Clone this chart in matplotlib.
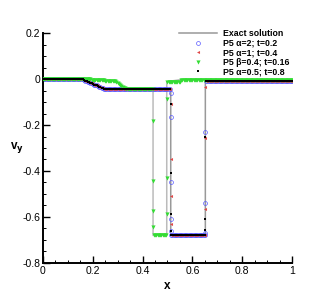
import numpy as np
import matplotlib
matplotlib.use("Agg")
import matplotlib.pyplot as plt
from matplotlib.ticker import MultipleLocator

plt.rcParams['font.family'] = ['Liberation Sans', 'DejaVu Sans']

# grid of the numerical solutions (dx = 0.005)
x_grid = np.round(np.arange(0, 201) * 0.005, 4)

# v_y on the grid, shock profile shared by the alpha runs
vy_shock = ([0.0] * 32
            + [-0.002, -0.005, -0.007, -0.009, -0.012, -0.014, -0.017, -0.019, -0.021,
               -0.024, -0.026, -0.028, -0.031, -0.033, -0.036, -0.038, -0.040, -0.043]
            + [-0.045] * 53
            + [-0.68] * 28
            + [-0.008] * 70)

# beta run
vy_beta = ([0.0] * 32
           + [-0.000, -0.001, -0.001, -0.001, -0.002, -0.002, -0.002, -0.003, -0.003,
              -0.003, -0.004, -0.004, -0.005, -0.005, -0.005, -0.006, -0.006, -0.006,
              -0.007, -0.007, -0.008, -0.008, -0.008, -0.009, -0.009, -0.009, -0.010]
           + [-0.014, -0.018, -0.022, -0.026, -0.030, -0.034, -0.038, -0.041, -0.044]
           + [-0.045] * 21
           + [-0.68] * 11
           + [-0.012] * 11
           + [-0.003] * 90)

# points sitting inside the jumps
a2_jx = [0.513, 0.513, 0.513, 0.513, 0.513, 0.652, 0.652, 0.652]
a2_jy = [-0.06, -0.165, -0.45, -0.61, -0.66, -0.23, -0.54, -0.67]
a1_jx = [0.513, 0.513, 0.513, 0.513, 0.652, 0.652, 0.652]
a1_jy = [-0.11, -0.35, -0.507, -0.63, -0.033, -0.255, -0.565]
a05_jx = [0.513, 0.513, 0.513, 0.513, 0.652, 0.652, 0.652]
a05_jy = [-0.11, -0.41, -0.587, -0.66, -0.25, -0.61, -0.657]
b_jx = [0.442, 0.442, 0.442, 0.442, 0.497, 0.497, 0.497]
b_jy = [-0.183, -0.443, -0.574, -0.644, -0.088, -0.43, -0.587]

# exact solutions
ex1_x = [0, 0.155, 0.25, 0.513, 0.513, 0.652, 0.652, 1]
ex1_y = [0, 0, -0.045, -0.045, -0.68, -0.68, -0.008, -0.008]
ex2_x = [0, 0.155, 0.29, 0.34, 0.442, 0.442, 0.497, 0.497, 0.55, 1]
ex2_y = [0, 0, -0.01, -0.045, -0.045, -0.68, -0.68, -0.012, -0.003, -0.003]

fig = plt.figure(figsize=(3.32, 2.96), dpi=100)
ax = fig.add_axes([0.1295, 0.1115, 0.75, 0.777])

ax.plot(ex1_x, ex1_y, color='#999999', lw=1.1, label='Exact solution', zorder=1)
ax.plot(ex2_x, ex2_y, color='#bbbbbb', lw=1.1, zorder=1)

def pts(base, jx, jy):
    return np.concatenate([x_grid, jx]), np.concatenate([base, jy])

xs, ys = pts(vy_shock, a2_jx, a2_jy)
ax.plot(xs, ys, 'o', ms=2.8, mfc='none', mec='#5a5aff', mew=0.5, ls='none',
        label='P5 \u03b1=2; t=0.2', zorder=2)
xs, ys = pts(vy_shock, a1_jx, a1_jy)
ax.plot(xs, ys, '<', ms=2.2, color='#e04848', mew=0, ls='none',
        label='P5 \u03b1=1; t=0.4', zorder=3)
xs, ys = pts(vy_beta, b_jx, b_jy)
ax.plot(xs, ys, 'v', ms=3.0, color='#33dd33', mew=0, ls='none',
        label='P5 \u03b2=0.4; t=0.16', zorder=3)
xs, ys = pts(vy_shock, a05_jx, a05_jy)
ax.plot(xs, ys, 's', ms=1.8, color='black', mew=0, ls='none',
        label='P5 \u03b1=0.5; t=0.8', zorder=4)

ax.set_xlim(0, 1)
ax.set_ylim(-0.8, 0.2)
ax.xaxis.set_minor_locator(MultipleLocator(0.05))
ax.yaxis.set_minor_locator(MultipleLocator(0.05))
ax.set_xticks([0, 0.2, 0.4, 0.6, 0.8, 1])
ax.set_xticklabels(['0', '0.2', '0.4', '0.6', '0.8', '1'])
ax.set_yticks([-0.8, -0.6, -0.4, -0.2, 0, 0.2])
ax.set_yticklabels(['-0.8', '-0.6', '-0.4', '-0.2', '0', '0.2'])
ax.tick_params(which='major', direction='in', length=5, width=1.0, labelsize=7.5, pad=2)
ax.tick_params(which='minor', direction='in', length=2.5, width=0.7)
for s in ['top', 'right']:
    ax.spines[s].set_visible(False)
for s in ['left', 'bottom']:
    ax.spines[s].set_linewidth(1.4)

ax.set_xlabel('x', fontsize=8.5, fontweight='bold', labelpad=3)
ax.set_ylabel('v$_\\mathbf{y}$', fontsize=8.5, fontweight='bold', rotation=0, labelpad=4,
              va='center')

leg = ax.legend(loc='upper left', bbox_to_anchor=(0.545, 1.016), frameon=False,
                prop={'size': 6.3, 'weight': 'bold'}, handlelength=4.4,
                handletextpad=0.7, labelspacing=0.05, borderaxespad=0.0,
                borderpad=0.0, markerscale=1.0)

fig.savefig('out.png', dpi=100)
